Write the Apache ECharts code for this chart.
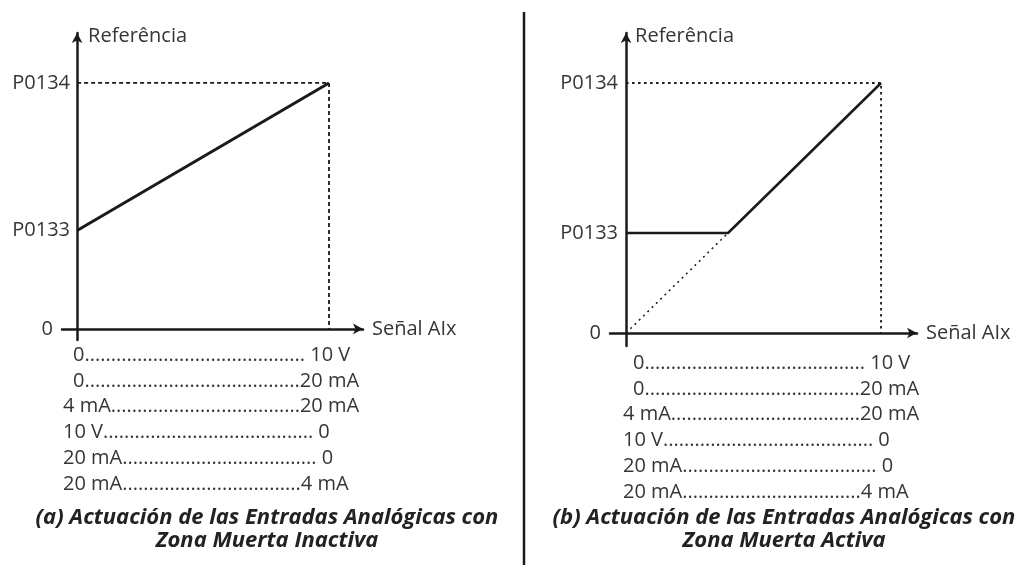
<!DOCTYPE html>
<html lang="es">
<head>
    <meta charset="UTF-8">
    <title>Zona Muerta</title>
    <script src="https://cdn.jsdelivr.net/npm/echarts@6.0.0/dist/echarts.min.js"></script>
    <style>
        html, body { margin: 0; padding: 0; background: #fff; }
        #chart { width: 1023px; height: 576px; }
    </style>
</head>
<body>
    <div id="chart"></div>

    <script>
        // reference axis ticks (P0134 taken as 100 %)
        const yTickValues = [0, 40, 100];
        const yTickLabels = ['0', 'P0133', 'P0134'];
        const yAxisName = 'Referência';
        const xAxisName = 'Señal AIx';

        // (a) dead zone inactive
        const signalA = [0, 10];
        const refA = [40, 100];

        // (b) dead zone active
        const signalB = [0, 4, 10];
        const refB = [40, 40, 100];
        const idealSignal = [0, 4];
        const idealRef = [0, 40];

        // signal ranges shown under each chart
        const rangeStart = ['0', '0', '4 mA', '10 V', '20 mA', '20 mA'];
        const rangeEnd = ['10 V', '20 mA', '20 mA', '0', '0', '4 mA'];

        const captionA = ['(a) Actuación de las Entradas Analógicas con', 'Zona Muerta Inactiva'];
        const captionB = ['(b) Actuación de las Entradas Analógicas con', 'Zona Muerta Activa'];

        const INK = '#1a1a1a';
        const TXT = '#363636';
        const FAMILY = 'Open Sans';
        const FONT = '20px "Open Sans"';

        const zip = (xs, ys) => xs.map((x, i) => [x, ys[i]]);

        function yAxisFor(gridIndex, min, max, namePad) {
            return {
                gridIndex, type: 'value', min, max,
                name: yAxisName, nameLocation: 'end', nameGap: -3,
                nameTextStyle: { color: TXT, fontFamily: FAMILY, fontSize: 20, align: 'left', verticalAlign: 'middle', padding: [0, 0, 0, namePad] },
                splitLine: { show: false },
                axisTick: { show: false },
                axisLine: { onZero: true, symbol: ['none', 'arrow'], symbolSize: [8, 10], lineStyle: { color: INK, width: 2.5 } },
                axisLabel: {
                    // labels sit at the grid edge, so pull them back next to the zero line
                    customValues: yTickValues, margin: -8,
                    color: TXT, fontFamily: FAMILY, fontSize: 20,
                    formatter: v => {
                        const i = yTickValues.indexOf(v);
                        return i === 0 ? '{z|' + yTickLabels[i] + '}' : yTickLabels[i];
                    },
                    rich: { z: { color: TXT, fontFamily: FAMILY, fontSize: 20, padding: [0, 17, 0, 0] } }
                }
            };
        }

        function xAxisFor(gridIndex, min, max) {
            return {
                gridIndex, type: 'value', min, max,
                name: xAxisName, nameLocation: 'end', nameGap: 9,
                nameTextStyle: { color: TXT, fontFamily: FAMILY, fontSize: 20 },
                splitLine: { show: false },
                axisTick: { show: false },
                axisLabel: { show: false },
                axisLine: { onZero: true, symbol: ['none', 'arrow'], symbolSize: [8, 10], lineStyle: { color: INK, width: 2.5 } }
            };
        }

        function lineSeries(idx, data, width, type) {
            return {
                type: 'line', xAxisIndex: idx, yAxisIndex: idx, data,
                symbol: 'none', silent: true, clip: false,
                lineStyle: { color: INK, width, type: type || 'solid' },
                z: type ? 2 : 3
            };
        }

        // text rows with dot leaders
        const ctx = document.createElement('canvas').getContext('2d');
        ctx.font = FONT;
        const w = s => ctx.measureText(s).width;

        function rangeRows(baseX, baseY, rightEdges) {
            const els = [];
            rangeStart.forEach((s, i) => {
                const x0 = baseX + (s === '0' ? 10 : 0);
                const y = baseY + i * 25.8;
                const right = baseX + rightEdges[i];
                const end = (rangeEnd[i] === '0' || rangeEnd[i] === '10 V') ? ' ' + rangeEnd[i] : rangeEnd[i];
                const n = Math.max(0, Math.round((right - w(end) - x0 - w(s)) / w('.')));
                els.push({ type: 'text', x: x0, y, silent: true,
                    style: { text: s + '.'.repeat(n) + end, font: FONT, fill: TXT, align: 'left', verticalAlign: 'middle', textAlign: 'left', textVerticalAlign: 'middle' } });
            });
            return els;
        }

        function caption(cx, lines) {
            return lines.map((t, i) => ({
                type: 'text', x: cx, y: 518 + i * 23, silent: true,
                style: { text: t, font: 'italic bold 22px "Open Sans"', fill: '#222', align: 'center', verticalAlign: 'middle', textAlign: 'center', textVerticalAlign: 'middle' }
            }));
        }

        const rightEdges = [285, 294, 294, 269, 269, 287];

        const chart = echarts.init(document.getElementById('chart'));
        chart.setOption({
            animation: false,
            backgroundColor: '#ffffff',
            grid: [
                { left: 62, top: 33, width: 301, height: 307, outerBoundsMode: 'none' },
                { left: 610, top: 33, width: 307, height: 313, outerBoundsMode: 'none' }
            ],
            xAxis: [xAxisFor(0, -0.6, 11.35), xAxisFor(1, -0.63, 11.41)],
            yAxis: [yAxisFor(0, -4.5, 120.3, 11), yAxisFor(1, -5.2, 120, 9)],
            series: [
                lineSeries(0, zip(signalA, refA), 3),
                lineSeries(0, [[0, refA[1]], [signalA[1], refA[1]], [signalA[1], 0]], 1.8, [4, 3]),
                lineSeries(1, zip(signalB, refB), 2.5),
                lineSeries(1, [[0, refB[2]], [signalB[2], refB[2]], [signalB[2], 0]], 1.8, [2.5, 3.5]),
                lineSeries(1, zip(idealSignal, idealRef), 1.5, [2, 4])
            ],
            graphic: [
                { type: 'line', silent: true, shape: { x1: 524, y1: 12, x2: 524, y2: 565 }, style: { stroke: INK, lineWidth: 2.5 } },
                ...rangeRows(63, 355, rightEdges),
                ...rangeRows(623, 363, rightEdges),
                ...caption(267, captionA),
                ...caption(784, captionB)
            ]
        });
    </script>
</body>
</html>
